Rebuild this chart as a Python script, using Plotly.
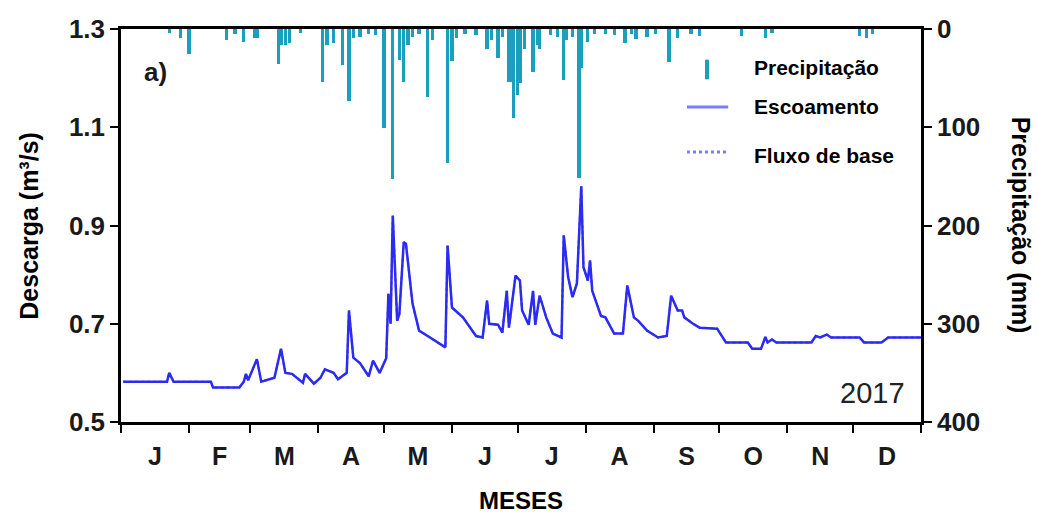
import plotly.graph_objects as go

# ---- data (day of year 2017) ----
flow_day = [1, 20, 21, 22, 24, 41, 42, 54, 56, 57, 58, 62, 64, 70, 73, 75, 78, 83, 84, 88,
            91, 93, 97, 99, 103, 104, 106, 109, 113, 115, 118, 121, 122, 123, 124, 126, 127, 129, 130, 133,
            136, 141, 148, 149, 151, 156, 162, 165, 167, 168, 172, 174, 176, 177, 180, 182, 183, 186, 188, 189,
            191, 194, 197, 201, 202, 204, 206, 208, 210, 211, 213, 214, 215, 219, 221, 225, 229, 231, 234, 236,
            240, 245, 249, 251, 254, 256, 257, 261, 264, 272, 276, 286, 288, 292, 294, 295, 297, 299, 315, 317,
            319, 322, 324, 337, 339, 347, 350, 365]
flow_q = [0.582, 0.582, 0.582, 0.600, 0.582, 0.582, 0.570, 0.570, 0.582, 0.598, 0.585, 0.628, 0.582, 0.590, 0.649, 0.600, 0.598, 0.580, 0.598, 0.578,
          0.590, 0.607, 0.600, 0.587, 0.600, 0.727, 0.631, 0.620, 0.593, 0.625, 0.600, 0.630, 0.761, 0.700, 0.920, 0.706, 0.720, 0.866, 0.863, 0.741,
          0.686, 0.672, 0.652, 0.859, 0.733, 0.713, 0.675, 0.672, 0.747, 0.700, 0.698, 0.682, 0.767, 0.692, 0.798, 0.788, 0.727, 0.698, 0.767, 0.698,
          0.757, 0.713, 0.680, 0.672, 0.880, 0.795, 0.754, 0.782, 0.980, 0.815, 0.788, 0.829, 0.767, 0.716, 0.713, 0.680, 0.680, 0.778, 0.713, 0.706,
          0.686, 0.672, 0.675, 0.757, 0.727, 0.727, 0.713, 0.700, 0.692, 0.690, 0.662, 0.662, 0.649, 0.649, 0.673, 0.662, 0.668, 0.662, 0.662, 0.675,
          0.672, 0.678, 0.672, 0.672, 0.662, 0.662, 0.672, 0.672]

rain_day = [22, 27, 31, 48, 52, 56, 61, 62, 72, 73, 75, 77, 82, 92, 94, 97, 101, 104, 106, 109,
            113, 116, 120, 124, 127, 129, 131, 133, 136, 140, 142, 149, 151, 153, 157, 162, 167, 169, 172, 174,
            177, 178, 179, 181, 182, 184, 188, 190, 191, 196, 199, 202, 203, 206, 209, 210, 213, 216, 221, 225,
            230, 233, 235, 240, 244, 250, 254, 260, 264, 283, 294, 297, 337, 340, 343]
rain_mm = [4, 9, 25, 11, 5, 13, 9, 9, 36, 16, 16, 14, 4, 54, 16, 14, 37, 73, 9, 8,
           5, 6, 101, 153, 32, 54, 16, 8, 5, 69, 11, 136, 33, 9, 5, 6, 20, 11, 30, 8,
           54, 54, 91, 67, 55, 20, 44, 16, 20, 6, 8, 52, 11, 8, 152, 40, 13, 5, 5, 6,
           14, 5, 10, 8, 5, 34, 9, 5, 7, 7, 9, 4, 7, 9, 5]

month_edges = [0, 31, 59, 90, 120, 151, 181, 212, 243, 273, 304, 334, 365]
month_labels = ["J", "F", "M", "A", "M", "J", "J", "A", "S", "O", "N", "D"]
q_ticks = [0.5, 0.7, 0.9, 1.1, 1.3]
p_ticks = [0, 100, 200, 300, 400]

month_mid = [(a + b) / 2 for a, b in zip(month_edges[:-1], month_edges[1:])]

FONT = "Liberation Sans"
RAIN_COLOR = "#1a9fbd"
FLOW_COLOR = "#2b2bf2"

fig = go.Figure()
fig.add_trace(go.Scatter(x=flow_day, y=flow_q, mode="lines", name="Fluxo de base",
                         line=dict(color="#5a5aff", width=2, dash="dot"), showlegend=False))
fig.add_trace(go.Scatter(x=flow_day, y=flow_q, mode="lines", name="Escoamento",
                         line=dict(color=FLOW_COLOR, width=2.5), showlegend=False))
fig.add_trace(go.Bar(x=rain_day, y=rain_mm, yaxis="y2", name="Precipitação",
                     marker=dict(color=RAIN_COLOR, line=dict(width=0)), width=1.5, showlegend=False))

tickfont = dict(family=FONT, size=26, color="#1a1a1a", weight="bold")

fig.update_layout(
    width=1038, height=517,
    margin=dict(l=121, r=117, t=29, b=95),
    paper_bgcolor="white", plot_bgcolor="white",
    bargap=0,
    xaxis=dict(range=[0, 365], tickmode="array", tickvals=month_mid, ticktext=month_labels,
               ticks="", showgrid=False, zeroline=False, showline=True, linecolor="black",
               linewidth=2.5, mirror=True, tickfont=dict(family=FONT, size=25, color="#1a1a1a", weight="bold"),
               ticklabelstandoff=10,
               minor=dict(tickmode="array", tickvals=month_edges, ticks="outside",
                          ticklen=8, tickwidth=2, tickcolor="black", showgrid=False)),
    yaxis=dict(range=[0.5, 1.3], tickmode="array", tickvals=q_ticks,
               ticktext=[f"{v:.1f}" for v in q_ticks], ticks="outside", ticklen=8, tickwidth=2,
               tickcolor="black", showgrid=False, zeroline=False, showline=True,
               linecolor="black", linewidth=2.5, tickfont=tickfont),
    yaxis2=dict(range=[400, 0], overlaying="y", side="right", tickmode="array", tickvals=p_ticks,
                ticks="outside", ticklen=8, tickwidth=2, tickcolor="black", showgrid=False,
                zeroline=False, showline=True, linecolor="black", linewidth=2.5, tickfont=tickfont),
    showlegend=False,
)

title_font = dict(family=FONT, size=25, color="black", weight="bold")
def note(text, x, y, font, angle=0, xanchor="center"):
    fig.add_annotation(text=text, xref="paper", yref="paper", x=x, y=y, textangle=angle,
                       xanchor=xanchor, yanchor="middle", showarrow=False, font=font)

note("Descarga (m³/s)", -0.116, 0.5, title_font, angle=-90)
note("Precipitação (mm)", 1.126, 0.5, title_font, angle=90)
note("MESES", 0.5, -0.200, dict(family=FONT, size=24, color="black", weight="bold"))
note("a)", 0.0425, 0.89, dict(family=FONT, size=26, color="#1a1a1a", weight="bold"))
note("2017", 0.939, 0.074, dict(family=FONT, size=29, color="#222222"))

# manual legend
leg_font = dict(family=FONT, size=21, color="black", weight="bold")
fig.add_shape(type="rect", xref="paper", yref="paper", x0=0.730, x1=0.735, y0=0.872, y1=0.922,
              fillcolor=RAIN_COLOR, line=dict(width=0))
fig.add_shape(type="line", xref="paper", yref="paper", x0=0.7075, x1=0.759, y0=0.8015, y1=0.8015,
              line=dict(color="#7b7bff", width=3))
fig.add_shape(type="line", xref="paper", yref="paper", x0=0.7075, x1=0.759, y0=0.687, y1=0.687,
              line=dict(color="#7b7bff", width=3, dash="dot"))
for txt, yy in [("Precipitação", 0.901), ("Escoamento", 0.804), ("Fluxo de base", 0.679)]:
    note(txt, 0.789, yy, leg_font, xanchor="left")

fig.write_html("out.html")
